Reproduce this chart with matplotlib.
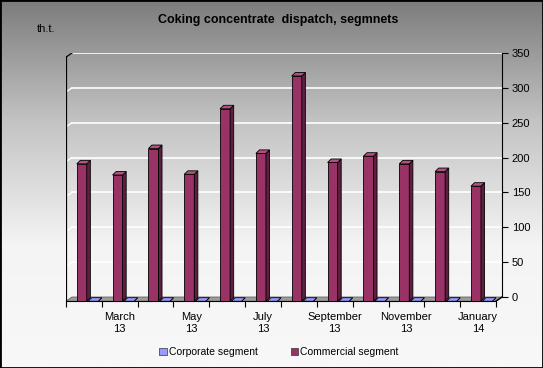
import numpy as np
import matplotlib.pyplot as plt
from matplotlib.patches import Polygon, Rectangle
from matplotlib.colors import LinearSegmentedColormap

plt.rcParams['font.family'] = ['Liberation Sans', 'DejaVu Sans']
plt.rcParams['font.size'] = 8

# data, thousand tonnes, Feb 2013 .. Jan 2014
months = ['February\n13', 'March\n13', 'April\n13', 'May\n13', 'June\n13', 'July\n13',
          'August\n13', 'September\n13', 'October\n13', 'November\n13', 'December\n13', 'January\n14']
shown_months = ['March\n13', 'May\n13', 'July\n13', 'September\n13', 'November\n13', 'January\n14']
corporate = [0, 0, 0, 0, 0, 0, 0, 0, 0, 0, 0, 0]
commercial = [197, 181, 219, 182, 276, 212, 323, 199, 208, 197, 186, 165]
y_ticks = [0, 50, 100, 150, 200, 250, 300, 350]

# fake 3D: front plane offset from back wall, and depth of a bar (data units)
dx0, dy0 = -0.167, -6.0
ddx, ddy = 0.1, 5.0
n = len(months)

fig = plt.figure(figsize=(5.43, 3.68), dpi=100)

# gradient background
bg = fig.add_axes([0, 0, 1, 1], zorder=-10)
grad = np.linspace(0, 1, 256).reshape(-1, 1)
cmap = LinearSegmentedColormap.from_list('bg', ['#7c7c7c', '#c4c4c4', '#f4f4f4', '#f8f8f8'])
bg.imshow(grad, aspect='auto', cmap=cmap, extent=[0, 1, 0, 1])
bg.axis('off')

ax = fig.add_axes([0.1215, 0.1815, 0.803, 0.6745])
ax.patch.set_visible(False)
ax.set_xlim(dx0, n)
ax.set_ylim(dy0, y_ticks[-1])

# back wall gridlines + their continuation on the left wall
for v in y_ticks[1:]:
    ax.plot([0, n], [v, v], color='white', lw=1.2, zorder=1)
    ax.plot([dx0, 0], [v + dy0, v], color='white', lw=1.0, zorder=1)

# floor
ax.add_patch(Polygon([(dx0, dy0), (n + dx0, dy0), (n, 0), (0, 0)],
                     facecolor='#9c9c9c', edgecolor='#606060', lw=0.6, zorder=2))
ax.plot([n + dx0, n], [dy0, 0], color='black', lw=1, zorder=3)

# left wall edges
ax.plot([dx0, dx0], [dy0, y_ticks[-1] + dy0], color='black', lw=1.6, zorder=3)
ax.plot([dx0, 0], [y_ticks[-1] + dy0, y_ticks[-1]], color='black', lw=1.0, zorder=3)


def bar3d(x0, w, h, front, side, top):
    x1 = x0 + w
    faces = [
        ([(x0, dy0), (x1, dy0), (x1, dy0 + h), (x0, dy0 + h)], front),
        ([(x1, dy0), (x1 + ddx, dy0 + ddy), (x1 + ddx, dy0 + h + ddy), (x1, dy0 + h)], side),
        ([(x0, dy0 + h), (x1, dy0 + h), (x1 + ddx, dy0 + h + ddy), (x0 + ddx, dy0 + h + ddy)], top),
    ]
    for pts, c in faces:
        ax.add_patch(Polygon(pts, closed=True, facecolor=c, edgecolor='black', lw=0.6, zorder=4))


for k in range(n):
    bar3d(dx0 + k + 0.30, 0.28, commercial[k], '#993366', '#5e1f40', '#b4507f')
    bar3d(dx0 + k + 0.62, 0.28, corporate[k], '#9999ff', '#6666cc', '#9999ff')

# axes
for s in ['top', 'left']:
    ax.spines[s].set_visible(False)
ax.spines['right'].set_bounds(0, y_ticks[-1])
ax.spines['bottom'].set_bounds(dx0, n + dx0)
ax.yaxis.tick_right()
ax.set_yticks(y_ticks)
ax.tick_params(axis='y', length=4, pad=3, labelsize=8)

ax.set_xticks([dx0 + k for k in range(n + 1)])
ax.set_xticklabels([])
ax.set_xticks([dx0 + k + 0.5 for k in range(1, n, 2)], minor=True)
ax.set_xticklabels(shown_months, minor=True)
ax.tick_params(axis='x', which='major', length=4)
ax.tick_params(axis='x', which='minor', length=0, pad=8, labelsize=8)

fig.text(0.512, 0.946, 'Coking concentrate  dispatch, segmnets', ha='center', va='center',
         fontsize=9, fontweight='bold')
fig.text(37 / 543, 1 - 29 / 368, 'th.t.', ha='left', va='center', fontsize=8)

h1 = Rectangle((0, 0), 1, 1, facecolor='#9999ff', edgecolor='#333333', lw=0.5)
h2 = Rectangle((0, 0), 1, 1, facecolor='#993366', edgecolor='#333333', lw=0.5)
fig.legend([h1, h2], ['Corporate segment', 'Commercial segment'], loc='center',
           bbox_to_anchor=(0.514, 0.044), ncol=2, frameon=False, fontsize=7.5,
           handlelength=0.7, handleheight=0.7, handletextpad=0.2, columnspacing=3.2)

fig.add_artist(Rectangle((0, 0), 1, 1, transform=fig.transFigure, fill=False,
                         edgecolor='black', lw=2))

fig.savefig('out.png', dpi=100)
